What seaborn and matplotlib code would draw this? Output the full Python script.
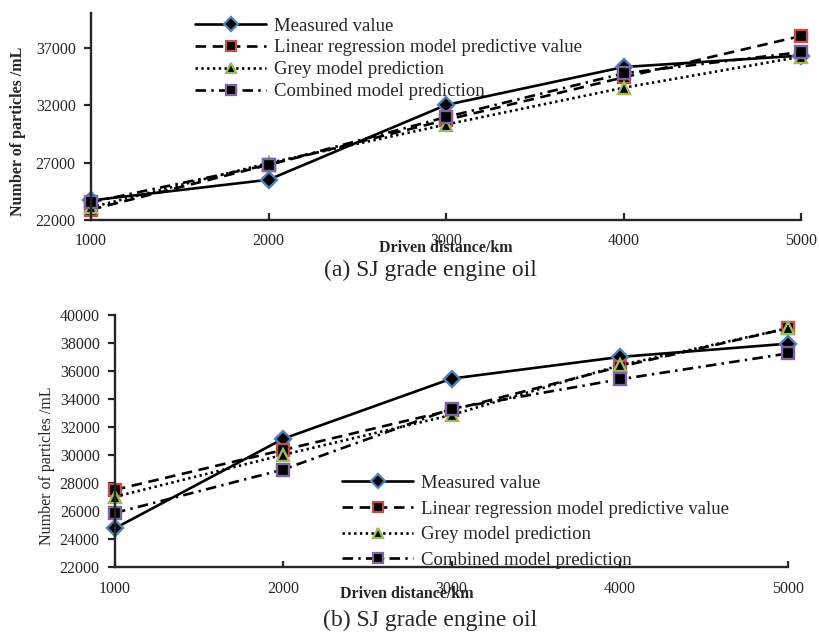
import numpy as np
import pandas as pd
import matplotlib
matplotlib.use("Agg")
import matplotlib.pyplot as plt
import seaborn as sns

# ---- data ----
distance = [1000, 2000, 3000, 4000, 5000]
series_names = ["Measured value", "Linear regression model predictive value",
                "Grey model prediction", "Combined model prediction"]

# (a) SJ grade engine oil
a_measured = [23700, 25500, 32000, 35300, 36300]
a_linear = [22900, 26800, 30700, 34400, 38000]
a_grey = [23100, 26950, 30300, 33500, 36200]
a_combined = [23550, 26800, 30950, 34750, 36600]

# (b) SJ grade engine oil
b_measured = [24750, 31150, 35450, 37000, 37950]
b_linear = [27500, 30350, 33200, 36300, 39050]
b_grey = [27000, 30000, 32850, 36400, 39050]
b_combined = [25850, 28950, 33300, 35400, 37250]

a_yticks = [22000, 27000, 32000, 37000]
b_yticks = list(range(22000, 40001, 2000))
xticks = [1000, 2000, 3000, 4000, 5000]

caption_a = "(a) SJ grade engine oil"
caption_b = "(b) SJ grade engine oil"
xlabel = "Driven distance/km"
ylabel = "Number of particles /mL"

# ---- style ----
sns.set_style("ticks")
plt.rcParams["font.family"] = ["Liberation Serif", "DejaVu Serif"]
plt.rcParams["axes.linewidth"] = 1.7

LW = 1.9
styles = [
    dict(marker="D", markersize=8, markeredgecolor="#4F81BD", linestyle="-"),
    dict(marker="s", markersize=9, markeredgecolor="#C0504D", linestyle=(0, (4.0, 2.5))),
    dict(marker="^", markersize=9, markeredgecolor="#9BBB59", linestyle=(0, (0.9, 1.3))),
    dict(marker="s", markersize=9, markeredgecolor="#8064A2", linestyle=(0, (4.0, 2.0, 0.9, 2.0))),
]

fig = plt.figure(figsize=(8.19, 6.35), dpi=100)

W, H = 819, 635
def axes_px(left, right, top, bottom):
    return fig.add_axes([left / W, 1 - bottom / H, (right - left) / W, (bottom - top) / H])

ax_a = axes_px(91, 801, 13, 220)
ax_b = axes_px(115, 788, 315, 566.7)

def draw(ax, data_lists):
    for name, vals, st in zip(series_names, data_lists, styles):
        df = pd.DataFrame({"x": distance, "y": vals})
        sns.lineplot(data=df, x="x", y="y", ax=ax, color="black", linewidth=LW,
                     markerfacecolor="black", markeredgewidth=1.7, label=name,
                     errorbar=None, clip_on=False, **st)
    ax.set_xlim(1000, 5000)
    ax.set_xticks(xticks)
    for s in ["top", "right"]:
        ax.spines[s].set_visible(False)

draw(ax_a, [a_measured, a_linear, a_grey, a_combined])
draw(ax_b, [b_measured, b_linear, b_grey, b_combined])

def shrink_legend_markers(leg):
    for h in leg.legend_handles:
        h.set_markersize(7)
        h.set_markeredgewidth(1.6)

# (a) axes
ax_a.set_ylim(22000, 40000)
ax_a.set_yticks(a_yticks)
ax_a.tick_params(axis="y", direction="out", length=5, width=1.6, labelsize=11.5, pad=6)
ax_a.tick_params(axis="x", direction="in", length=5, width=1.6, labelsize=11.5, pad=9)
ax_a.set_xlabel(xlabel, fontsize=11.5, fontweight="bold")
ax_a.xaxis.set_label_coords(0.5, -0.095)
ax_a.set_ylabel(ylabel, fontsize=11.5, fontweight="bold")
ax_a.yaxis.label.set_va("center")
ax_a.yaxis.set_label_coords(-0.103, 0.43)
leg_a = ax_a.legend(loc="upper left", bbox_to_anchor=((195 - 91) / 710, 0.978),
                    frameon=False, fontsize=13.5, handlelength=3.8, handletextpad=0.4,
                    labelspacing=0.25, borderpad=0, borderaxespad=0)
shrink_legend_markers(leg_a)

# (b) axes
ax_b.set_ylim(22000, 40000)
ax_b.set_yticks(b_yticks)
ax_b.tick_params(axis="y", direction="out", length=5, width=1.6, labelsize=11.5, pad=6)
ax_b.tick_params(axis="x", direction="in", length=4, width=1.6, labelsize=11.5, pad=10)
ax_b.set_xlabel(xlabel, fontsize=11.5, fontweight="bold")
ax_b.xaxis.set_label_coords((407 - 115) / 673, -0.078)
ax_b.set_ylabel(ylabel, fontsize=11.5)
ax_b.yaxis.label.set_va("center")
ax_b.yaxis.set_label_coords((47 - 115) / 673, (566.7 - 466) / 251.7)
leg_b = ax_b.legend(loc="upper left", bbox_to_anchor=((342 - 115) / 673, 0.365),
                    frameon=False, fontsize=13.5, handlelength=3.8, handletextpad=0.4,
                    labelspacing=0.45, borderpad=0, borderaxespad=0)
shrink_legend_markers(leg_b)

fig.text(430 / W, 1 - 270 / H, caption_a, ha="center", va="center", fontsize=17)
fig.text(430 / W, 1 - 620 / H, caption_b, ha="center", va="center", fontsize=17)

fig.savefig("out.png", dpi=100)
